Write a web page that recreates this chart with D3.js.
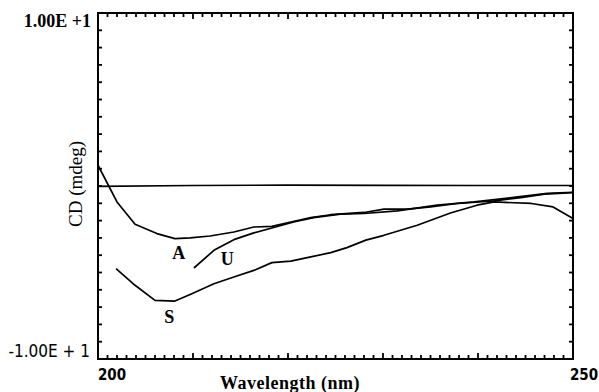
<!DOCTYPE html>
<html>
<head>
<meta charset="utf-8">
<script src="https://cdn.jsdelivr.net/npm/d3@7"></script>
<style>
  body { margin: 0; background: #fff; }
  svg { display: block; }
</style>
</head>
<body>
<svg width="599" height="392"></svg>
<script>
// wavelength (nm) / CD (mdeg) pairs
var baseWl = [200, 210, 220, 230, 240, 250];
var baseCd = [-0.02, 0.03, 0.05, 0.04, 0.03, 0.03];

var aWl = [200, 202, 203.9, 206.2, 208.1, 209.7, 211.8, 214.3, 216.4, 218.3, 220.3, 222.4, 224.5, 228, 230.1, 232.6, 235, 237.8, 241.7, 244.5, 247, 250];
var aCd = [1.2, -0.92, -2.21, -2.75, -3.04, -3.0, -2.89, -2.66, -2.37, -2.33, -2.08, -1.83, -1.66, -1.53, -1.34, -1.34, -1.21, -1.01, -0.86, -0.67, -0.47, -0.38];

var uWl = [210.1, 212.2, 214.3, 216.4, 218.5, 220.6, 222.7, 225.5, 228, 231.5, 235.7, 239.6, 244.2, 247.3, 250];
var uCd = [-4.74, -3.72, -3.1, -2.71, -2.4, -2.08, -1.83, -1.63, -1.59, -1.44, -1.11, -0.92, -0.63, -0.43, -0.36];

var sWl = [201.9, 203.9, 206, 208.1, 209.7, 212.2, 214.3, 216.4, 218.3, 220.3, 222.4, 224.5, 226.2, 228.2, 230.1, 233.6, 237.1, 239.9, 241.7, 245.6, 247.9, 250];
var sCd = [-4.78, -5.74, -6.61, -6.65, -6.27, -5.65, -5.26, -4.88, -4.43, -4.34, -4.1, -3.85, -3.56, -3.13, -2.85, -2.27, -1.56, -1.11, -0.92, -1.01, -1.21, -1.88];

var curveLabels = [
  {text: "A", wl: 208.5, cd: -3.85},
  {text: "U", wl: 213.6, cd: -4.2},
  {text: "S", wl: 207.5, cd: -7.55}
];

var xTickLabels = [200, 250];
var yTickLabels = ["-1.00E + 1", "1.00E +1"];

var svg = d3.select("svg"),
    margin = {top: 13, right: 26, bottom: 33, left: 98},
    width = +svg.attr("width") - margin.left - margin.right,
    height = +svg.attr("height") - margin.top - margin.bottom;

var x = d3.scaleLinear().domain([200, 250]).range([0, width]);
var y = d3.scaleLinear().domain([-10, 10]).range([height, 0]);

var line = d3.line()
  .x(function(d) { return x(d[0]); })
  .y(function(d) { return y(d[1]); });

function pairs(a, b) { return a.map(function(v, i) { return [v, b[i]]; }); }

var g = svg.append("g")
  .attr("transform", "translate(" + margin.left + "," + margin.top + ")");

g.append("rect")
  .attr("width", width)
  .attr("height", height)
  .attr("fill", "none")
  .attr("stroke", "#000")
  .attr("stroke-width", 2);

// inward ticks: every 1 nm (longer every 10 nm), every 1 mdeg
var xTicks = d3.range(200, 251, 1);
var yTicks = d3.range(-10, 11, 1);
function xLen(d) { return d % 10 == 0 ? 6 : 4; }

function tickLines(data, x1, y1, x2, y2) {
  g.append("g").selectAll("line")
    .data(data)
    .enter().append("line")
      .attr("x1", x1).attr("y1", y1)
      .attr("x2", x2).attr("y2", y2)
      .attr("stroke", "#000")
      .attr("stroke-width", 1.8);
}

tickLines(xTicks, function(d) { return x(d); }, 0, function(d) { return x(d); }, function(d) { return xLen(d); });
tickLines(xTicks, function(d) { return x(d); }, height, function(d) { return x(d); }, function(d) { return height - xLen(d); });
tickLines(yTicks, 0, function(d) { return y(d); }, 4, function(d) { return y(d); });
tickLines(yTicks, width, function(d) { return y(d); }, width - 4, function(d) { return y(d); });

var series = [pairs(baseWl, baseCd), pairs(aWl, aCd), pairs(uWl, uCd), pairs(sWl, sCd)];

g.selectAll(".curve")
  .data(series)
  .enter().append("path")
    .attr("class", "curve")
    .attr("fill", "none")
    .attr("stroke", "#000")
    .attr("stroke-width", 1.7)
    .attr("stroke-linejoin", "round")
    .attr("d", line);

g.selectAll(".lbl")
  .data(curveLabels)
  .enter().append("text")
    .attr("class", "lbl")
    .attr("x", function(d) { return x(d.wl); })
    .attr("y", function(d) { return y(d.cd); })
    .attr("text-anchor", "middle")
    .attr("dy", "0.35em")
    .style("font", "bold 18px 'Liberation Serif', serif")
    .text(function(d) { return d.text; });

// tick labels
g.selectAll(".xl")
  .data(xTickLabels)
  .enter().append("text")
    .attr("class", "xl")
    .attr("x", function(d, i) { return x(d) + (i == 0 ? 14 : 11); })
    .attr("y", height + 21)
    .attr("text-anchor", "middle")
    .style("font", "bold 15px 'DejaVu Sans Condensed', 'DejaVu Sans', sans-serif")
    .text(function(d) { return d; });

g.append("text")
  .attr("x", -7)
  .attr("y", 14)
  .attr("text-anchor", "end")
  .style("font", "bold 18px 'Liberation Serif', serif")
  .text(yTickLabels[1]);

g.append("text")
  .attr("x", -8)
  .attr("y", height - 2)
  .attr("text-anchor", "end")
  .style("font", "17px 'DejaVu Sans Condensed', 'DejaVu Sans', sans-serif")
  .text(yTickLabels[0]);

g.append("text")
  .attr("transform", "translate(-16," + (height / 2 - 2) + ") rotate(-90)")
  .attr("text-anchor", "middle")
  .style("font", "19px 'Liberation Serif', serif")
  .text("CD (mdeg)");

g.append("text")
  .attr("x", 192)
  .attr("y", height + 30)
  .attr("text-anchor", "middle")
  .style("font", "bold 18px 'Liberation Serif', serif")
  .style("letter-spacing", "0.5px")
  .text("Wavelength (nm)");
</script>
</body>
</html>
